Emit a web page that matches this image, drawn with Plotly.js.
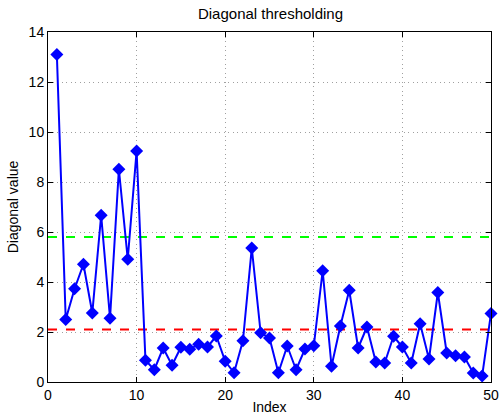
<!DOCTYPE html>
<html><head><meta charset="utf-8">
<script src="https://cdn.plot.ly/plotly-3.0.1.min.js"></script>
<style>html,body{margin:0;padding:0;background:#fff}#chart{width:500px;height:416px}</style>
</head><body><div id="chart"></div>
<script>
const indices = [1,2,3,4,5,6,7,8,9,10,11,12,13,14,15,16,17,18,19,20,21,22,23,24,25,26,27,28,29,30,31,32,33,34,35,36,37,38,39,40,41,42,43,44,45,46,47,48,49,50];
const diagValues = [13.1,2.5,3.73,4.71,2.76,6.67,2.55,8.51,4.91,9.24,0.87,0.49,1.36,0.67,1.39,1.31,1.51,1.4,1.84,0.83,0.37,1.65,5.36,1.97,1.76,0.37,1.44,0.49,1.32,1.45,4.45,0.63,2.24,3.67,1.36,2.2,0.8,0.76,1.83,1.4,0.76,2.33,0.92,3.58,1.16,1.05,1.0,0.36,0.24,2.74];
const thresholdX = [0, 50];
const upperThreshold = [5.8, 5.8];
const lowerThreshold = [2.1, 2.1];
const xTicks = [0,10,20,30,40,50];
const yTicks = [0,2,4,6,8,10,12,14];

const fam = 'Liberation Sans, Arial, sans-serif';
const font = {family: fam, size: 14, color: '#000'};
const traces = [
  {x: thresholdX, y: upperThreshold, mode: 'lines', line: {color: '#00ff00', width: 2, dash: 'dash'}, hoverinfo: 'skip'},
  {x: thresholdX, y: lowerThreshold, mode: 'lines', line: {color: '#ff0000', width: 2, dash: 'dash'}, hoverinfo: 'skip'},
  {x: indices, y: diagValues, mode: 'lines+markers', cliponaxis: false, line: {color: '#0000ff', width: 2}, marker: {symbol: 'diamond', size: 10, color: '#0000ff'}}
];
const axisCommon = {
  showline: true, linecolor: '#000', linewidth: 1, mirror: 'ticks',
  ticks: 'inside', ticklen: 5, tickcolor: '#000', tickwidth: 1,
  showgrid: true, gridcolor: '#a0a0a0', griddash: '1px,3.5px', gridwidth: 1,
  zeroline: false, tickfont: font
};
const layout = {
  width: 500, height: 416,
  margin: {l: 48, r: 9, t: 32, b: 34},
  paper_bgcolor: '#fff', plot_bgcolor: '#fff',
  showlegend: false,
  font: font,
  title: {text: 'Diagonal thresholding', font: {family: fam, size: 15, color: '#000'}, x: 0.541, xanchor: 'center', y: 0.966, yanchor: 'middle'},
  xaxis: Object.assign({}, axisCommon, {range: [0, 50], tickvals: xTicks, ticktext: xTicks.map(String), title: {text: 'Index', font: font, standoff: 0}}),
  yaxis: Object.assign({}, axisCommon, {range: [0, 14], tickvals: yTicks, ticktext: yTicks.map(String), title: {text: 'Diagonal value', font: font, standoff: 6}})
};
Plotly.newPlot('chart', traces, layout, {displayModeBar: false, staticPlot: true});
</script></body></html>
